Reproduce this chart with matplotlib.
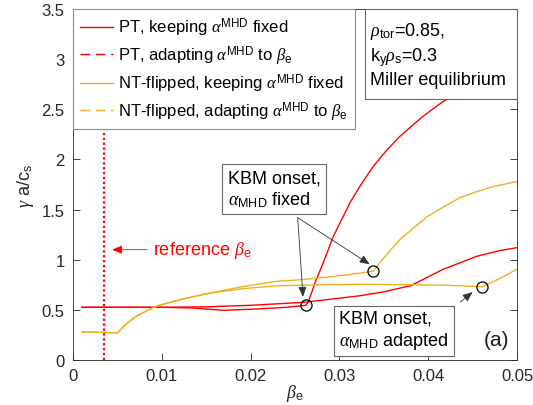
import numpy as np
import matplotlib
matplotlib.use("Agg")
import matplotlib.pyplot as plt
from matplotlib.lines import Line2D
from matplotlib.patches import Rectangle

plt.rcParams['font.family'] = ['Liberation Sans', 'DejaVu Sans']
plt.rcParams['mathtext.fontset'] = 'custom'
plt.rcParams['mathtext.rm'] = 'Liberation Sans'
plt.rcParams['mathtext.it'] = 'Liberation Serif:italic'
plt.rcParams['mathtext.bf'] = 'Liberation Sans:bold'

# growth rate vs beta_e
pt_fixed_b = [0.001, 0.005, 0.01, 0.013, 0.017, 0.021, 0.024, 0.0262, 0.0265, 0.0273,
              0.0282, 0.0293, 0.0312, 0.0325, 0.0338, 0.0353, 0.0368, 0.0394, 0.0417,
              0.045, 0.05]
pt_fixed_g = [0.525, 0.525, 0.525, 0.52, 0.495, 0.51, 0.525, 0.545, 0.58, 0.78,
              0.975, 1.23, 1.57, 1.76, 1.93, 2.09, 2.23, 2.43, 2.58,
              2.75, 2.95]

pt_adapt_b = [0.001, 0.005, 0.01, 0.015, 0.02, 0.026, 0.0323, 0.035, 0.038, 0.0417,
              0.0455, 0.048, 0.05]
pt_adapt_g = [0.525, 0.525, 0.525, 0.53, 0.545, 0.575, 0.64, 0.68, 0.74, 0.905,
              1.035, 1.09, 1.12]

nt_fixed_b = [0.001, 0.005, 0.006, 0.007, 0.0085, 0.0095, 0.012, 0.015, 0.019, 0.023,
              0.0256, 0.028, 0.031, 0.0338, 0.0346, 0.0357, 0.0368, 0.0384, 0.0399,
              0.0418, 0.0436, 0.0455, 0.0473, 0.05]
nt_fixed_g = [0.28, 0.27, 0.36, 0.43, 0.50, 0.54, 0.60, 0.66, 0.73, 0.785,
              0.80, 0.82, 0.85, 0.885, 0.975, 1.09, 1.20, 1.32, 1.43,
              1.53, 1.62, 1.68, 1.73, 1.78]

nt_adapt_b = [0.001, 0.005, 0.006, 0.007, 0.0085, 0.0095, 0.012, 0.015, 0.019, 0.023,
              0.028, 0.033, 0.038, 0.042, 0.0461, 0.048, 0.05]
nt_adapt_g = [0.28, 0.27, 0.36, 0.43, 0.50, 0.54, 0.60, 0.66, 0.71, 0.74,
              0.75, 0.755, 0.75, 0.745, 0.73, 0.81, 0.905]

onset_b = [0.0262, 0.0338, 0.0461]
onset_g = [0.545, 0.885, 0.73]

beta_ref = 0.0035

red = '#ff0000'
yel = '#EDB120'

fig = plt.figure(figsize=(5.33, 4.06), dpi=100)
ax = fig.add_axes([0.137, 0.111, 0.833, 0.864])

ax.plot(pt_fixed_b, pt_fixed_g, color=red, lw=1)
ax.plot(pt_adapt_b, pt_adapt_g, color=red, lw=1)
ax.plot(nt_fixed_b, nt_fixed_g, color=yel, lw=1)
ax.plot(nt_adapt_b, nt_adapt_g, color=yel, lw=1)
ax.plot(onset_b, onset_g, 'o', mfc='none', mec='k', ms=8, mew=0.9)
ax.axvline(beta_ref, color=red, ls=(0, (1, 1.2)), lw=1.6)

ax.set_xlim(0, 0.05)
ax.set_ylim(0, 3.5)
ax.set_xticks([0, 0.01, 0.02, 0.03, 0.04, 0.05])
ax.set_xticklabels(['0', '0.01', '0.02', '0.03', '0.04', '0.05'])
ax.set_yticks(np.arange(0, 3.51, 0.5))
ax.set_yticklabels(['0', '0.5', '1', '1.5', '2', '2.5', '3', '3.5'])
ax.tick_params(direction='in', length=5, width=0.6, top=True, right=True,
               labelsize=12, colors='0.15', pad=6)
for s in ax.spines.values():
    s.set_color('0.15')
    s.set_linewidth(0.6)
ax.set_xlabel(r'$\beta_{\rm e}$', fontsize=13, color='0.15', labelpad=-1)
ax.set_ylabel(r'$\gamma$ a/c$_{\rm s}$', fontsize=13, color='0.15', labelpad=4)

handles = [Line2D([], [], color=red, lw=1),
           Line2D([], [], color=red, lw=1, ls=(0, (7, 4))),
           Line2D([], [], color=yel, lw=1),
           Line2D([], [], color=yel, lw=1, ls=(0, (7, 4)))]
labels = [r'PT, keeping $\alpha^{\rm MHD}$ fixed',
          r'PT, adapting $\alpha^{\rm MHD}$ to $\beta_{\rm e}$',
          r'NT-flipped, keeping $\alpha^{\rm MHD}$ fixed',
          r'NT-flipped, adapting $\alpha^{\rm MHD}$ to $\beta_{\rm e}$']
leg = ax.legend(handles, labels, loc='upper left', bbox_to_anchor=(0, 1),
                borderaxespad=0, fontsize=12, fancybox=False, framealpha=1,
                edgecolor='0.55', handlelength=2.0, handletextpad=0.3,
                labelspacing=0.32, borderpad=0.4)
leg.get_frame().set_linewidth(0.8)

# parameter box, flush with the top right corner
ax.add_patch(Rectangle((0.0329, 2.6), 0.0171, 0.9, fc='w', ec='0.4', lw=0.8,
                       zorder=4, clip_on=False))
ax.text(0.0334, 3.05, '$\\rho_{\\rm tor}$=0.85,\nk$_{\\rm y}\\rho_{\\rm s}$=0.3\nMiller equilibrium',
        ha='left', va='center', fontsize=13, linespacing=1.25, zorder=5)

ax.text(0.02264, 1.706, 'KBM onset,\n$\\alpha_{\\rm MHD}$ fixed',
        ha='center', va='center', multialignment='left', fontsize=13,
        bbox=dict(boxstyle='square,pad=0.3', fc='w', ec='0.4', lw=0.8))
arr = dict(arrowstyle='-|>,head_length=0.6,head_width=0.25', color='0.2', lw=0.6,
           shrinkA=0, shrinkB=0)
ax.annotate('', xy=(0.0259, 0.63), xytext=(0.0253, 1.42), arrowprops=arr)
ax.annotate('', xy=(0.0334, 0.955), xytext=(0.0253, 1.42), arrowprops=arr)

ax.text(0.03615, 0.295, 'KBM onset,\n$\\alpha_{\\rm MHD}$ adapted',
        ha='center', va='center', multialignment='left', fontsize=13,
        bbox=dict(boxstyle='square,pad=0.3', fc='w', ec='0.4', lw=0.8))
ax.annotate('', xy=(0.045, 0.677), xytext=(0.0436, 0.577), arrowprops=arr)

ax.text(0.0477, 0.2, '(a)', ha='center', va='center', fontsize=15, color='0.1')

ax.text(0.009, 1.1, r'reference $\beta_{\rm e}$', color=red, fontsize=13,
        ha='left', va='center')
ax.annotate('', xy=(0.0044, 1.1), xytext=(0.00833, 1.1),
            arrowprops=dict(arrowstyle='-|>,head_length=0.6,head_width=0.25',
                            color=red, lw=0.6, shrinkA=0, shrinkB=0))

fig.savefig('out.png', dpi=100)
